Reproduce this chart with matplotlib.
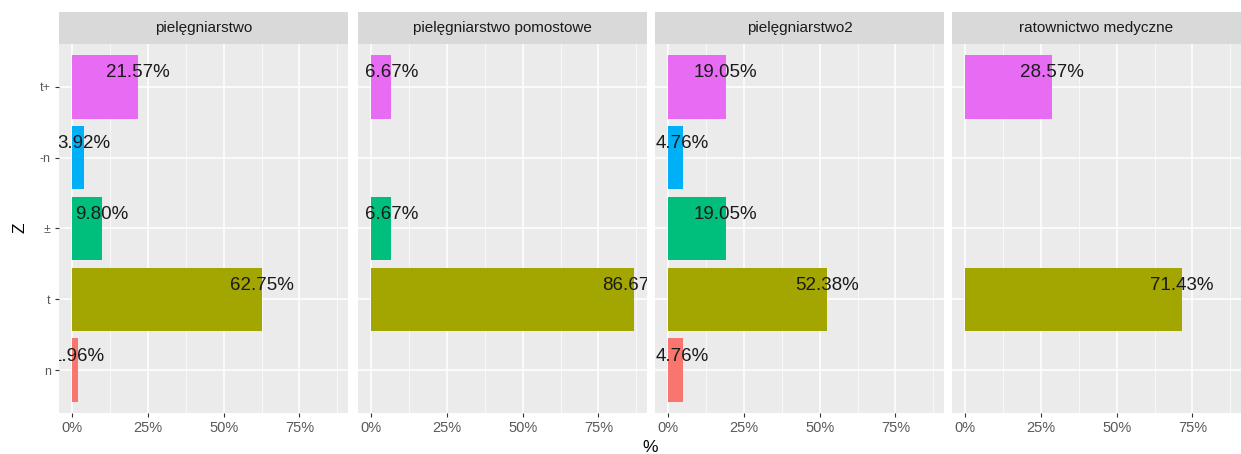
import numpy as np
import matplotlib
matplotlib.use("Agg")
import matplotlib.pyplot as plt

plt.rcParams['font.family'] = ['Liberation Sans', 'DejaVu Sans']

categories = ["n", "t", "±", "-n", "t+"]
colors = ["#F8766D", "#A3A500", "#00BF7D", "#00B0F6", "#E76BF3"]
facets = ["pielęgniarstwo", "pielęgniarstwo pomostowe", "pielęgniarstwo2", "ratownictwo medyczne"]
values_pielegniarstwo = [1.96, 62.75, 9.80, 3.92, 21.57]
values_pomostowe = [np.nan, 86.67, 6.67, np.nan, 6.67]
values_pielegniarstwo2 = [4.76, 52.38, 19.05, 4.76, 19.05]
values_ratownictwo = [np.nan, 71.43, np.nan, np.nan, 28.57]
all_values = [values_pielegniarstwo, values_pomostowe, values_pielegniarstwo2, values_ratownictwo]
xticks = [0, 25, 50, 75]
xticklabels = ["0%", "25%", "50%", "75%"]

W, H = 1241, 454
fig = plt.figure(figsize=(W / 100, H / 100), dpi=100)

lefts = [59, 358, 655, 952]
pw = 289
top_px, bot_px = 44, 413
strip_h = 32
xmax = 86.67
xlim = (-0.05 * xmax, 1.05 * xmax)

for k, (name, vals) in enumerate(zip(facets, all_values)):
    ax = fig.add_axes([lefts[k] / W, (H - bot_px) / H, pw / W, (bot_px - top_px) / H])
    ax.set_facecolor("#EBEBEB")
    ax.set_xlim(*xlim)
    ax.set_ylim(-0.6, len(categories) - 0.4)
    ax.set_xticks(xticks)
    ax.set_xticks([12.5, 37.5, 62.5, 87.5], minor=True)
    ax.set_yticks(range(len(categories)))
    ax.grid(True, which="major", color="white", linewidth=1.1)
    ax.grid(True, which="minor", axis="x", color="white", linewidth=0.5)
    ax.set_axisbelow(True)
    for s in ax.spines.values():
        s.set_visible(False)
    ax.tick_params(axis="both", which="major", length=3, color="#333333", width=0.8,
                   labelcolor="#5A5A5A", labelsize=10.5, pad=3)
    ax.tick_params(axis="y", labelsize=9)
    ax.tick_params(axis="both", which="minor", length=0)
    ax.set_xticklabels(xticklabels)
    if k == 0:
        ax.set_yticklabels(categories)
    else:
        ax.tick_params(axis="y", length=0, labelleft=False)
    y = np.arange(len(categories))
    v = np.array(vals, dtype=float)
    ax.barh(y, np.nan_to_num(v), height=0.9, color=colors, zorder=2)
    for yi, vi in zip(y, v):
        if np.isnan(vi):
            continue
        ax.text(vi, yi + 0.2, f"{vi:.2f}%", ha="center", va="center", fontsize=13.5,
                color="#1a1a1a", clip_on=True, zorder=3)
    # strip
    sax = fig.add_axes([lefts[k] / W, (H - top_px) / H, pw / W, strip_h / H])
    sax.set_facecolor("#D9D9D9")
    sax.set_xticks([]); sax.set_yticks([])
    for s in sax.spines.values():
        s.set_visible(False)
    sax.text(0.5, 0.5, name, ha="center", va="center", fontsize=11, color="#1A1A1A",
             transform=sax.transAxes)

fig.text(650 / W, 1 - 447 / H, "%", ha="center", va="center", fontsize=12.5, color="black")
fig.text(20 / W, 1 - 228 / H, "Z", ha="center", va="center", fontsize=12.5, rotation=90, color="black")

fig.savefig("out.png", dpi=100)
